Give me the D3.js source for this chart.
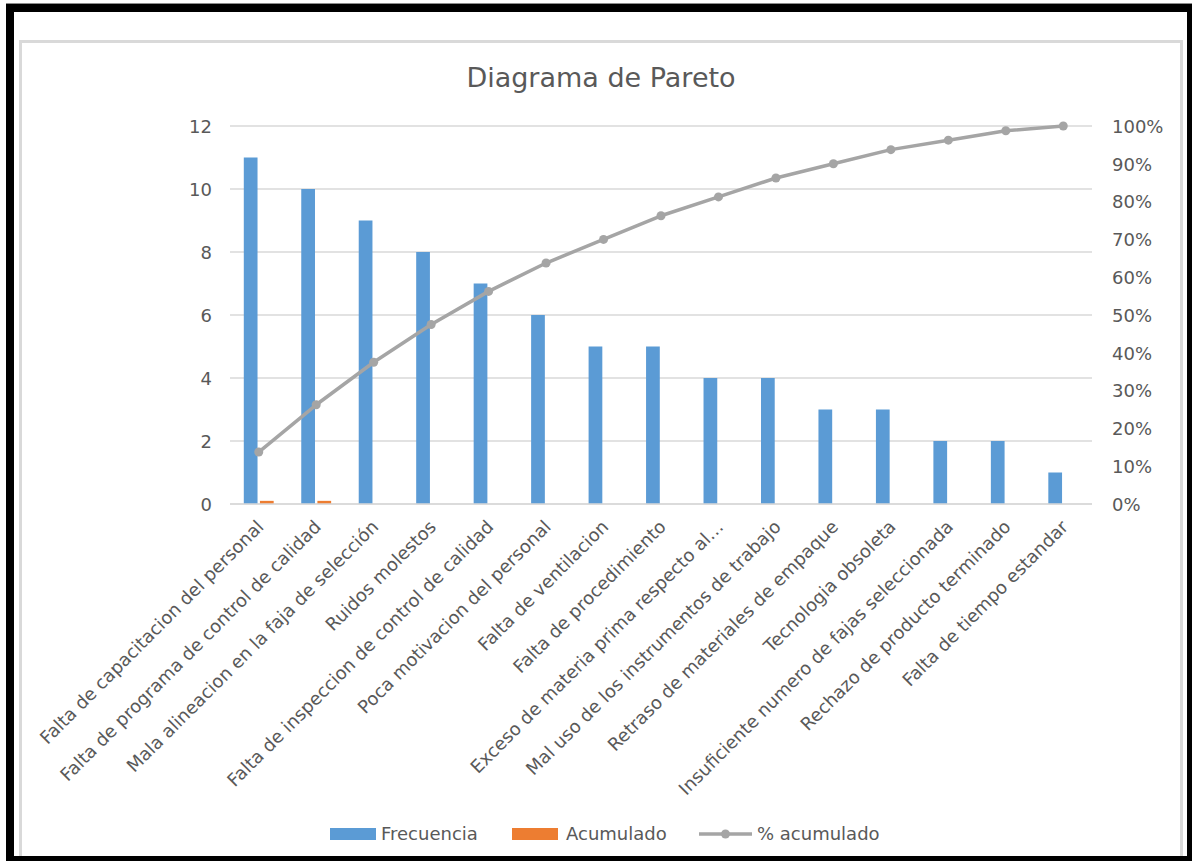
<!DOCTYPE html>
<html>
<head>
<meta charset="utf-8">
<script src="https://cdn.jsdelivr.net/npm/d3@7"></script>
<style>
  html, body { margin: 0; padding: 0; background: #fff; }
  svg { display: block; }
  text { font-family: "DejaVu Sans", sans-serif; fill: #595959; }
</style>
</head>
<body>
<svg id="chart" width="1192" height="861"></svg>
<script>
// Causes, ordered by frequency
const categories = [
  "Falta de capacitacion del personal",
  "Falta de programa de control de calidad",
  "Mala alineacion en la faja de selección",
  "Ruidos molestos",
  "Falta de inspeccion de control de calidad",
  "Poca motivacion del personal",
  "Falta de ventilacion",
  "Falta de procedimiento",
  "Exceso de materia prima respecto al…",
  "Mal uso de los instrumentos de trabajo",
  "Retraso de materiales de empaque",
  "Tecnologia obsoleta",
  "Insuficiente numero de fajas seleccionada",
  "Rechazo de producto terminado",
  "Falta de tiempo estandar"
];
const frecuencia = [11, 10, 9, 8, 7, 6, 5, 5, 4, 4, 3, 3, 2, 2, 1];
const acumulado = [0.1, 0.1, 0, 0, 0, 0, 0, 0, 0, 0, 0, 0, 0, 0, 0];
const pctAcumulado = [13.75, 26.25, 37.5, 47.5, 56.25, 63.75, 70, 76.25, 81.25, 86.25, 90, 93.75, 96.25, 98.75, 100];
const leftTicks = [0, 2, 4, 6, 8, 10, 12];
const rightTicks = [0, 10, 20, 30, 40, 50, 60, 70, 80, 90, 100];
const seriesNames = ["Frecuencia", "Acumulado", "% acumulado"];

const colors = { blue: "#5b9bd5", orange: "#ed7d31", gray: "#a5a5a5", grid: "#d9d9d9" };

const svg = d3.select("#chart");

// Outer black frame and inner chart box
svg.append("rect").attr("x", 6).attr("y", 4).attr("width", 1186).attr("height", 857).attr("fill", "#000");
svg.append("line").attr("x1", 6).attr("x2", 1192).attr("y1", 3.5).attr("y2", 3.5).attr("stroke", "#8c8c8c");
svg.append("rect").attr("x", 14).attr("y", 12).attr("width", 1173).attr("height", 844).attr("fill", "#fff");
svg.append("rect").attr("x", 20.5).attr("y", 41.5).attr("width", 1161).attr("height", 840)
  .attr("fill", "none").attr("stroke", colors.grid).attr("stroke-width", 3);
// keep the frame's bottom edge on top of the inner box
svg.append("rect").attr("x", 6).attr("y", 856).attr("width", 1186).attr("height", 5).attr("fill", "#000");

const plot = { left: 230, right: 1092, top: 126, bottom: 504 };

const x0 = d3.scaleBand().domain(categories).range([plot.left, plot.right])
  .paddingInner(0.48).paddingOuter(0.24);
const x1 = d3.scaleBand().domain(["f", "a"]).range([0, x0.bandwidth()]).paddingInner(0.15);
const y = d3.scaleLinear().domain([0, 12]).range([plot.bottom, plot.top]);
const y2 = d3.scaleLinear().domain([0, 100]).range([plot.bottom, plot.top]);

// Title
svg.append("text").attr("x", 601).attr("y", 87).attr("text-anchor", "middle")
  .style("font-size", "27px").text("Diagrama de Pareto");

// Gridlines
svg.append("g").selectAll("line").data(leftTicks).join("line")
  .attr("x1", plot.left).attr("x2", plot.right)
  .attr("y1", d => y(d)).attr("y2", d => y(d))
  .attr("stroke", colors.grid).attr("stroke-width", 1.5);

// Left axis labels
const leftAxis = d3.axisLeft(y).tickValues(leftTicks).tickSize(0).tickPadding(0);
svg.append("g").attr("transform", `translate(${212},0)`).call(leftAxis)
  .call(g => g.select(".domain").remove())
  .call(g => g.selectAll("text").style("font-size", "18px").attr("fill", "#595959").attr("dy", "0.35em"));

// Right axis labels
const rightAxis = d3.axisRight(y2).tickValues(rightTicks).tickFormat(d => d + "%").tickSize(0).tickPadding(0);
svg.append("g").attr("transform", `translate(${1112},0)`).call(rightAxis)
  .call(g => g.select(".domain").remove())
  .call(g => g.selectAll("text").style("font-size", "18px").attr("fill", "#595959").attr("dy", "0.35em"));

// Bars
const groups = svg.append("g").selectAll("g").data(categories).join("g")
  .attr("transform", d => `translate(${x0(d)},0)`);
groups.append("rect")
  .attr("x", x1("f")).attr("width", x1.bandwidth())
  .attr("y", (d, i) => y(frecuencia[i])).attr("height", (d, i) => y(0) - y(frecuencia[i]))
  .attr("fill", colors.blue);
groups.append("rect")
  .attr("x", x1("a")).attr("width", x1.bandwidth())
  .attr("y", (d, i) => y(acumulado[i])).attr("height", (d, i) => y(0) - y(acumulado[i]))
  .attr("fill", colors.orange);

// Category axis line
const xAxis = d3.axisBottom(x0).tickSize(0).tickFormat("");
svg.append("g").attr("transform", `translate(0,${plot.bottom})`).call(xAxis)
  .call(g => g.select(".domain").attr("stroke", colors.grid).attr("stroke-width", 1.5)
    .attr("d", `M${plot.left},0H${plot.right}`));

// Rotated category labels
svg.append("g").selectAll("text").data(categories).join("text")
  .attr("text-anchor", "end")
  .attr("transform", d => `translate(${x0(d) + x0.bandwidth() / 2 + 6},${plot.bottom + 24}) rotate(-45)`)
  .style("font-size", "18px")
  .text(d => d);

// Cumulative percentage line
const cx = d => x0(d) + x0.bandwidth() / 2;
const line = d3.line().x((d, i) => cx(categories[i])).y(d => y2(d));
svg.append("path").datum(pctAcumulado).attr("d", line)
  .attr("fill", "none").attr("stroke", colors.gray).attr("stroke-width", 3.5).attr("stroke-linejoin", "round");
svg.append("g").selectAll("circle").data(pctAcumulado).join("circle")
  .attr("cx", (d, i) => cx(categories[i])).attr("cy", d => y2(d)).attr("r", 4.5)
  .attr("fill", colors.gray);

// Legend
const legend = svg.append("g");
const ly = 834;
legend.append("rect").attr("x", 330).attr("y", ly - 6).attr("width", 46).attr("height", 12).attr("fill", colors.blue);
legend.append("text").attr("x", 381).attr("y", ly).attr("dy", "0.35em").style("font-size", "18px").text(seriesNames[0]);
legend.append("rect").attr("x", 512).attr("y", ly - 6).attr("width", 46).attr("height", 12).attr("fill", colors.orange);
legend.append("text").attr("x", 566).attr("y", ly).attr("dy", "0.35em").style("font-size", "18px").text(seriesNames[1]);
legend.append("line").attr("x1", 699).attr("x2", 752).attr("y1", ly).attr("y2", ly)
  .attr("stroke", colors.gray).attr("stroke-width", 3.5);
legend.append("circle").attr("cx", 725.5).attr("cy", ly).attr("r", 4.5).attr("fill", colors.gray);
legend.append("text").attr("x", 757).attr("y", ly).attr("dy", "0.35em").style("font-size", "18px").text(seriesNames[2]);
</script>
</body>
</html>
